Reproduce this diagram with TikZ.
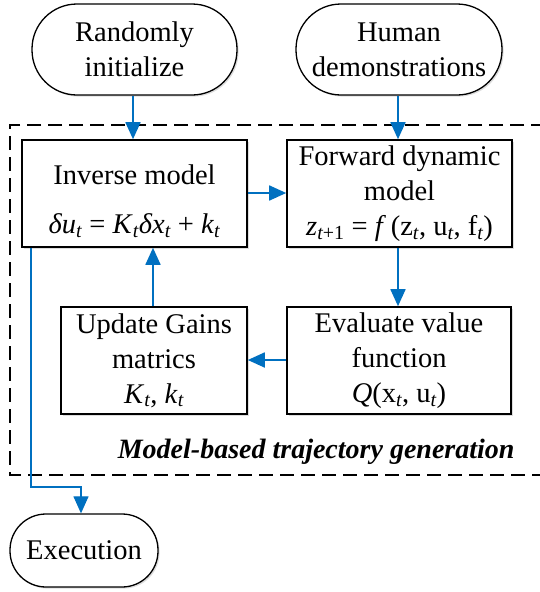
\documentclass[tikz,border=0pt]{standalone}
\usepackage{amsmath}
\usepackage{fontspec}
\setmainfont{Liberation Serif}
\usetikzlibrary{arrows.meta,shadows}
\definecolor{flowblue}{RGB}{0,112,192}
% italic subscript
\newcommand{\sub}[1]{$_{\textit{#1}}$}
\begin{document}
\begin{tikzpicture}[x=1pt,y=-1pt,
  font=\fontsize{28.5}{35}\selectfont,
  softshadow/.style={drop shadow={shadow xshift=1.6pt,shadow yshift=-1.6pt,opacity=0.22,fill=black!60}},
  box/.style={draw,line width=1.6pt,fill=white,align=center,inner sep=0pt,
    minimum width=#1,minimum height=107pt,softshadow},
  term/.style={draw,line width=1.3pt,fill=white,align=center,inner sep=0pt,softshadow},
  flow/.style={draw=flowblue,line width=1.8pt,-{Triangle[length=17pt,width=15pt]},color=flowblue},
  thinflow/.style={flow,line width=1.2pt},
  frame/.style={draw,line width=1.4pt,dash pattern=on 14pt off 7pt}]
\useasboundingbox (0,0) rectangle (540,592);

% dashed frame of the generation loop (open to the right edge)
\draw[frame] (545,125) -- (10,125) -- (10,475) -- (545,475);

% terminals
\node[term,minimum width=205pt,minimum height=91pt,rounded corners=45pt] (rand) at (134.5,49.5) {Randomly\\initialize};
\node[term,minimum width=206pt,minimum height=91pt,rounded corners=45pt] (human) at (399,49.5) {Human\\demonstrations};
\node[term,minimum width=148pt,minimum height=73pt,rounded corners=36pt] (exec) at (84,550.5) {Execution};

% process boxes
\node[box=225pt] (inv) at (134.5,193.5) {};
\node[align=center] (invtext) at (134.5,201) {Inverse model\\[14pt]\textit{δu}\sub{t} = \textit{K}\sub{t}\textit{δx}\sub{t} + \textit{k}\sub{t}};
\node[box=225pt] (fwd) at (399.5,193.5) {Forward dynamic\\model\\\textit{z}$_{\textit{t}\text{+1}}$ = \textit{f}\,(z\sub{t}, u\sub{t}, f\sub{t})};
\node[box=186pt] (upd) at (154,360.5) {Update Gains\\matrics\\\textit{K}\sub{t}, \textit{k}\sub{t}};
\node[box=224pt] (eval) at (399,360.5) {Evaluate value\\function\\\textit{Q}(x\sub{t}, u\sub{t})};

\node[anchor=east,font=\bfseries\itshape\fontsize{28}{34}\selectfont] (lbl) at (518,452) {Model-based trajectory generation};

% connectors
\draw[flow] (rand.south -| 133,0) -- (inv.north -| 133,0);
\draw[flow] (human.south -| 398,0) -- (fwd.north -| 398,0);
\draw[flow] (inv.east |- 0,193) -- (fwd.west |- 0,193);
\draw[flow] (fwd.south -| 398,0) -- (eval.north -| 398,0);
\draw[flow] (eval.west |- 0,360) -- (upd.east |- 0,360);
\draw[flow] (upd.north -| 153,0) -- (inv.south -| 153,0);
\coordinate (bend) at (31,487);
\draw[thinflow] (inv.south -| bend) -- (bend) -| (exec.north -| 81,0);
\end{tikzpicture}
\end{document}
